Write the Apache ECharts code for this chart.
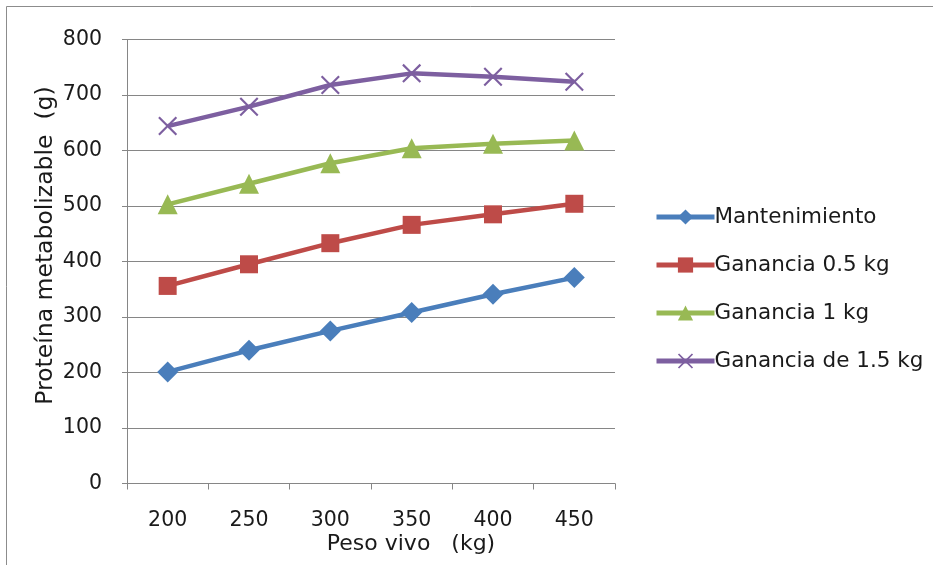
<!DOCTYPE html>
<html>
<head>
<meta charset="utf-8">
<script src="https://cdn.jsdelivr.net/npm/echarts@6/dist/echarts.min.js"></script>
<style>
  html, body { margin: 0; padding: 0; background: #fff; }
  #chart { width: 933px; height: 565px; }
</style>
</head>
<body>
<div id="chart"></div>
<script>
// Peso vivo (kg) categories
const pesoVivo = ['200', '250', '300', '350', '400', '450'];

// Proteína metabolizable (g) by requirement
const mantenimiento = [201, 240, 275, 308, 341, 371];
const ganancia05 = [356, 395, 433, 466, 485, 504];
const ganancia1 = [503, 540, 577, 604, 612, 618];
const ganancia15 = [644, 679, 718, 739, 733, 724];

const seriesNames = ['Mantenimiento', 'Ganancia 0.5 kg', 'Ganancia 1 kg', 'Ganancia de 1.5 kg'];

const FONT = '"DejaVu Sans", "Open Sans", sans-serif';
const TEXT = '#1a1a1a';
// thin "X" marker as a filled outline
const crossPath = 'path://M0,0.8 L0.8,0 L5,4.2 L9.2,0 L10,0.8 L5.8,5 L10,9.2 L9.2,10 L5,5.8 L0.8,10 L0,9.2 L4.2,5 Z';

function lineSeries(name, data, color, symbol, size) {
  return {
    name: name,
    type: 'line',
    data: data,
    symbol: symbol,
    symbolSize: size,
    lineStyle: { color: color, width: 4.5 },
    itemStyle: { color: color },
    emphasis: { disabled: true },
    z: 3
  };
}

const chart = echarts.init(document.getElementById('chart'), null, { renderer: 'canvas' });
chart.setOption({
  animation: false,
  backgroundColor: '#fff',
  textStyle: { fontFamily: FONT },
  graphic: [{
    type: 'rect',
    shape: { x: 6.5, y: 6.5, width: 940, height: 570 },
    style: { fill: 'none', stroke: '#8c8c8c', lineWidth: 1 },
    silent: true
  }],
  grid: { left: 127, right: 318, top: 39.5, bottom: 81.5, containLabel: false },
  legend: {
    orient: 'vertical',
    left: 654,
    top: 206,
    padding: 0,
    itemWidth: 58,
    itemHeight: 19,
    itemGap: 26,
    lineStyle: { width: 5 },
    textStyle: { fontFamily: FONT, fontSize: 21.5, color: TEXT, padding: [0, 0, 0, -5] },
    data: seriesNames
  },
  xAxis: {
    type: 'category',
    data: pesoVivo,
    boundaryGap: true,
    name: 'Peso vivo   (kg)',
    nameLocation: 'middle',
    nameGap: 50,
    nameMoveOverlap: false,
    nameTextStyle: { fontFamily: FONT, fontSize: 22, color: TEXT, padding: [0, 0, 0, 80] },
    axisLine: { lineStyle: { color: '#868686', width: 1 } },
    axisTick: { show: true, length: 6, alignWithLabel: false, lineStyle: { color: '#868686' } },
    axisLabel: { fontFamily: FONT, fontSize: 20.5, color: TEXT, margin: 27 },
    splitLine: { show: false }
  },
  yAxis: {
    type: 'value',
    min: 0,
    max: 800,
    interval: 100,
    name: 'Proteína metabolizable  (g)',
    nameLocation: 'middle',
    nameGap: 69,
    nameMoveOverlap: false,
    nameRotate: 90,
    nameTextStyle: { fontFamily: FONT, fontSize: 23.5, color: TEXT, padding: [0, 0, 0, 32] },
    axisLine: { show: true, lineStyle: { color: '#868686', width: 1 } },
    axisTick: { show: true, length: 5, lineStyle: { color: '#868686' } },
    axisLabel: { fontFamily: FONT, fontSize: 20.5, color: TEXT, margin: 25 },
    splitLine: { show: true, lineStyle: { color: '#868686', width: 1 } }
  },
  series: [
    lineSeries(seriesNames[0], mantenimiento, '#4a7ebb', 'diamond', 21),
    lineSeries(seriesNames[1], ganancia05, '#be4b48', 'rect', 18),
    lineSeries(seriesNames[2], ganancia1, '#98b954', 'triangle', 20),
    lineSeries(seriesNames[3], ganancia15, '#7d5fa0', crossPath, 19)
  ]
});
</script>
</body>
</html>
